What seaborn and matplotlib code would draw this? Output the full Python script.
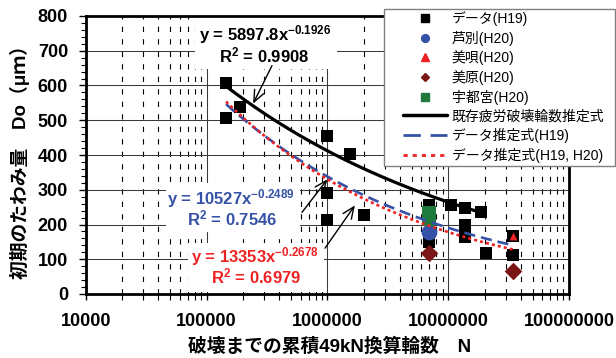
import numpy as np
import matplotlib
matplotlib.use("Agg")
import matplotlib.pyplot as plt
import seaborn as sns
from matplotlib.lines import Line2D
from matplotlib.patches import Rectangle
from matplotlib.ticker import FixedLocator, FixedFormatter, NullFormatter

sns.set_theme(style="white")
plt.rcParams["font.family"] = ["Liberation Sans", "Noto Sans CJK JP", "DejaVu Sans"]
plt.rcParams["mathtext.fontset"] = "custom"
plt.rcParams["mathtext.rm"] = "Liberation Sans:bold"
plt.rcParams["mathtext.bf"] = "Liberation Sans:bold"
plt.rcParams["mathtext.it"] = "Liberation Sans:bold"
plt.rcParams["lines.scale_dashes"] = False

# ---- measured data: cumulative 49kN-equivalent wheel passes vs initial deflection ----
h19_n = [1.45e5, 1.45e5, 1.9e5, 1.0e6, 1.0e6, 1.0e6, 1.55e6, 2.0e6,
         6.9e6, 6.9e6, 1.06e7, 1.39e7, 1.88e7, 1.39e7, 1.39e7, 2.07e7, 3.44e7, 3.44e7]
h19_d = [606, 506, 539, 455, 291, 212, 402, 227,
         255, 150, 255, 248, 236, 200, 163, 118, 166, 111]

ashibetsu_n = [6.9e6]
ashibetsu_d = [179]
bibai_n = [3.44e7]
bibai_d = [166]
bihara_n = [6.9e6, 3.44e7]
bihara_d = [117, 66]
utsunomiya_n = [6.9e6, 6.9e6]
utsunomiya_d = [233, 216]

point_labels = ["データ(H19)", "芦別(H20)", "美唄(H20)", "美原(H20)", "宇都宮(H20)"]

# ---- power-law fits  y = a * x^b ----
fit_labels = ["既存疲労破壊輪数推定式", "データ推定式(H19)", "データ推定式(H19, H20)"]
fit_coef = [5897.8, 10527, 13353]
fit_exp = [-0.1926, -0.2489, -0.2678]
fit_r2 = [0.9908, 0.7546, 0.6979]
fit_start = [1.45e5, 1.45e5, 1.45e5]
fit_end = [1.9e7, 3.44e7, 3.44e7]

x_ticks = [1e4, 1e5, 1e6, 1e7, 1e8]
x_tick_labels = ["10000", "100000", "1000000", "10000000", "100000000"]
y_ticks = [0, 100, 200, 300, 400, 500, 600, 700, 800]

# ---- figure ----
W, H = 616, 358
fig = plt.figure(figsize=(W / 100, H / 100), dpi=100)
fig.patch.set_facecolor("white")
ax = fig.add_axes([85.7 / W, (H - 294) / H, 483.3 / W, 278 / H])
ax.set_facecolor("white")
ax.set_axisbelow(True)

c_blue = "#3652A6"
c_red = "#EE2222"
c_maroon = "#7A1616"
c_green = "#1E7B3C"

sns.scatterplot(x=h19_n, y=h19_d, marker="s", s=75, color="black",
                edgecolor="black", linewidth=0, ax=ax, zorder=3, legend=False)
sns.scatterplot(x=ashibetsu_n, y=ashibetsu_d, marker="o", s=130, color=c_blue,
                edgecolor=c_blue, linewidth=0, ax=ax, zorder=3.1, legend=False)
sns.scatterplot(x=utsunomiya_n, y=utsunomiya_d, marker="s", s=115, color=c_green,
                edgecolor=c_green, linewidth=0, ax=ax, zorder=3.2, legend=False)
sns.scatterplot(x=bibai_n, y=bibai_d, marker="^", s=32, color=c_red,
                edgecolor=c_red, linewidth=0, ax=ax, zorder=3.3, legend=False)
sns.scatterplot(x=bihara_n, y=bihara_d, marker="D", s=80, color=c_maroon,
                edgecolor=c_maroon, linewidth=0, ax=ax, zorder=3.4, legend=False)

fit_styles = [
    dict(color="black", lw=2.3, linestyle="-"),
    dict(color=c_blue, lw=1.9, linestyle=(0, (8, 4.3))),
    dict(color=c_red, lw=1.9, linestyle=(0, (2.2, 2.2))),
]
for a, b, x0, x1, st in zip(fit_coef, fit_exp, fit_start, fit_end, fit_styles):
    xs = np.logspace(np.log10(x0), np.log10(x1), 200)
    ys = a * xs ** b
    sns.lineplot(x=xs, y=ys, ax=ax, sort=False, zorder=4, legend=False, **st)

ax.set_xscale("log")
ax.set_xlim(1e4, 1e8)
ax.set_ylim(0, 800)

ax.xaxis.set_major_locator(FixedLocator(x_ticks))
ax.xaxis.set_major_formatter(FixedFormatter(x_tick_labels))
ax.xaxis.set_minor_locator(FixedLocator([k * 10.0 ** n for n in range(4, 8) for k in range(2, 10)]))
ax.xaxis.set_minor_formatter(NullFormatter())
ax.yaxis.set_major_locator(FixedLocator(y_ticks))
ax.yaxis.set_minor_locator(FixedLocator(list(range(0, 801, 20))))

ax.tick_params(axis="both", which="both", bottom=True, left=True, top=False, right=False,
               color="black", direction="out")
ax.tick_params(axis="x", which="major", length=4.3, width=1.0, pad=9.4, labelsize=13)
ax.tick_params(axis="x", which="minor", length=4.3, width=0.8)
ax.tick_params(axis="y", which="major", length=4.8, width=1.0, pad=7.9, labelsize=13)
ax.tick_params(axis="y", which="minor", length=3.4, width=0.8)
for lab in ax.get_xticklabels() + ax.get_yticklabels():
    lab.set_fontweight("bold")
    lab.set_color("black")

ax.grid(which="major", axis="both", color="#3a3a3a", lw=0.75, linestyle="-")
ax.grid(which="minor", axis="x", color="black", lw=0.8, linestyle=(0, (3.8, 5.2)))
ax.yaxis.grid(False, which="minor")

for sp in ax.spines.values():
    sp.set_visible(True)
    sp.set_color("black")
    sp.set_linewidth(2.0)

ax.set_xlabel("破壊までの累積49kN換算輪数　N", fontsize=13.5, fontweight="bold", color="black")
ax.set_ylabel("初期のたわみ量　Do（μｍ）", fontsize=13.5, fontweight="bold", color="black")
ax.xaxis.set_label_coords(0.505, -0.158)
ax.yaxis.set_label_coords(-0.115, 0.49)

# white panels behind the fit equations
for (x0, y0, w, h) in [(0.226, 0.809, 0.294, 0.187),
                       (0.166, 0.223, 0.277, 0.176),
                       (0.212, 0.007, 0.281, 0.176)]:
    ax.add_patch(Rectangle((x0, y0), w, h, transform=ax.transAxes,
                           facecolor="white", edgecolor="none", zorder=1.2))

eq_pos = [((0.371, 0.914), (0.369, 0.833)),
          ((0.301, 0.322), (0.304, 0.248)),
          ((0.350, 0.114), (0.352, 0.038))]
eq_colors = ["black", c_blue, c_red]
for a, b, r2, (p1, p2), col in zip(fit_coef, fit_exp, fit_r2, eq_pos, eq_colors):
    ax.text(p1[0], p1[1], "y = %sx$^{%s}$" % (f"{a:g}", f"{b:g}".replace("-", "−")),
            transform=ax.transAxes, ha="center", va="baseline", fontsize=12,
            fontweight="bold", color=col, zorder=5)
    ax.text(p2[0], p2[1], "R$^{2}$ = %.4f" % r2, transform=ax.transAxes,
            ha="center", va="baseline", fontsize=12, fontweight="bold", color=col, zorder=5)

arrow_kw = dict(arrowstyle="->,head_length=0.7,head_width=0.3", color="black", lw=1.0,
                shrinkA=0, shrinkB=0)
ax.annotate("", xy=(2.43e5, 548), xytext=(3.48e5, 657), arrowprops=arrow_kw, zorder=5)
ax.annotate("", xy=(1.0e6, 330), xytext=(6.17e5, 235), arrowprops=arrow_kw, zorder=5)
ax.annotate("", xy=(1.69e6, 255), xytext=(9.57e5, 132), arrowprops=arrow_kw, zorder=5)

# ---- legend ----
fig.add_artist(Rectangle((384 / W, 1 - 166 / H), (615 - 384) / W, (166 - 9) / H,
                         transform=fig.transFigure, facecolor="white",
                         edgecolor="#808080", lw=1.0, zorder=4))
handles = [
    Line2D([], [], marker="s", color="black", linestyle="none", markersize=5.2),
    Line2D([], [], marker="o", color=c_blue, linestyle="none", markersize=5.6),
    Line2D([], [], marker="^", color=c_red, linestyle="none", markersize=5.6),
    Line2D([], [], marker="D", color=c_maroon, linestyle="none", markersize=4.2),
    Line2D([], [], marker="s", color=c_green, linestyle="none", markersize=5.2),
    Line2D([], [], color="black", lw=2.5),
    Line2D([], [], color=c_blue, lw=2.0, linestyle=(0, (12.5, 7))),
    Line2D([], [], color=c_red, lw=2.0, linestyle=(0, (3, 3.6))),
]
labels = point_labels + fit_labels
leg = fig.legend(handles, labels, loc="upper left", bbox_to_anchor=(403 / W, 1 - 11 / H),
                 bbox_transform=fig.transFigure, frameon=False, fontsize=10,
                 handlelength=3.2, handletextpad=0.3, labelspacing=0.34,
                 borderpad=0, borderaxespad=0)
leg.set_zorder(5)
for t in leg.get_texts():
    t.set_color("black")

fig.savefig("out.png", dpi=100, facecolor="white")
